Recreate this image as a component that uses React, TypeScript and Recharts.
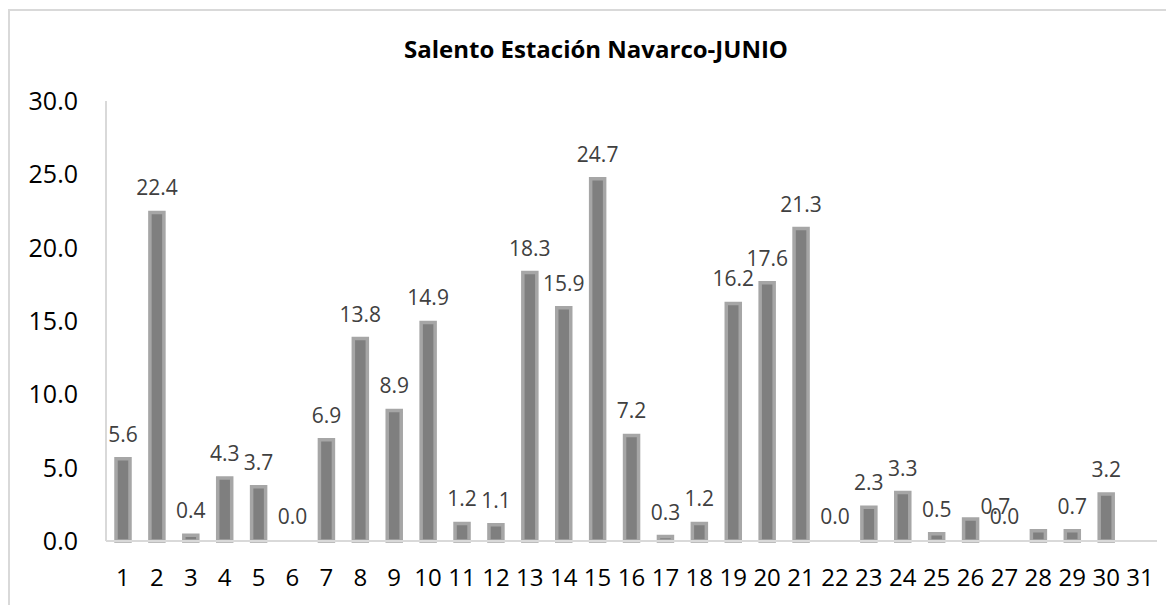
import { BarChart, Bar, XAxis, YAxis, LabelList, Rectangle } from 'recharts';

// días de junio
const days = [
  '1', '2', '3', '4', '5', '6', '7', '8', '9', '10',
  '11', '12', '13', '14', '15', '16', '17', '18', '19', '20',
  '21', '22', '23', '24', '25', '26', '27', '28', '29', '30', '31',
];

// precipitación diaria (mm)
const rain = [
  5.6, 22.4, 0.4, 4.3, 3.7, 0.0, 6.9, 13.8, 8.9, 14.9,
  1.2, 1.1, 18.3, 15.9, 24.7, 7.2, 0.3, 1.2, 16.2, 17.6,
  21.3, 0.0, 2.3, 3.3, 0.5, 1.5, 0.0, 0.7, 0.7, 3.2, null,
];

// etiquetas tal como aparecen en el gráfico (el día 26 no tiene)
const valueLabels = [
  '5.6', '22.4', '0.4', '4.3', '3.7', '0.0', '6.9', '13.8', '8.9', '14.9',
  '1.2', '1.1', '18.3', '15.9', '24.7', '7.2', '0.3', '1.2', '16.2', '17.6',
  '21.3', '0.0', '2.3', '3.3', '0.5', '', '0.0', '0.7', '0.7', '3.2', '',
];

const yTicks = [0, 5, 10, 15, 20, 25, 30];

const data = days.map((day, i) => ({ day, rain: rain[i], label: valueLabels[i] }));

const FONT = '"Open Sans", "Noto Sans", sans-serif';

// no dibujar la barra cuando el valor es 0 (solo queda la etiqueta)
const renderBar = (props: any) => {
  if (!props.payload || !props.payload.rain) return <g />;
  return <Rectangle {...props} />;
};

const renderLabel = (props: any) => {
  const { x, y, width, height, value, index } = props;
  if (!value) return null;
  // la etiqueta del 28 quedó corrida hacia la izquierda en el original
  const dx = days[index] === '28' ? -43 : 0;
  const isZero = data[index] && data[index].rain === 0;
  const top = isZero ? Number(y) + Number(height) : Number(y);
  return (
    <text
      x={Number(x) + Number(width) / 2 + dx}
      y={top - 17}
      textAnchor="middle"
      fill="#404040"
      fontSize={21}
      fontFamily={FONT}
    >
      {value}
    </text>
  );
};

export default function App() {
  return (
    <div style={{ position: 'relative', width: 1166, height: 597, overflow: 'hidden', fontFamily: FONT }}>
      <div
        style={{
          position: 'absolute',
          left: 0,
          top: 1,
          width: 1175,
          height: 700,
          border: '2px solid #d9d9d9',
          boxSizing: 'border-box',
        }}
      />
      <div
        style={{
          position: 'absolute',
          left: 0,
          top: 24,
          width: 1176,
          textAlign: 'center',
          fontWeight: 700,
          fontSize: 24,
          color: '#000',
        }}
      >
        Salento Estación Navarco-JUNIO
      </div>
      <BarChart
        width={1166}
        height={597}
        data={data}
        margin={{ top: 93, right: 17, left: 0, bottom: 24 }}
      >
        <XAxis
          dataKey="day"
          height={40}
          interval={0}
          tickLine={false}
          tickSize={0}
          tickMargin={28}
          axisLine={{ stroke: '#d9d9d9', strokeWidth: 2 }}
          tick={{ fill: '#000', fontSize: 24, fontFamily: FONT }}
        />
        <YAxis
          width={98}
          domain={[0, 30]}
          ticks={yTicks}
          tickFormatter={(v: number) => v.toFixed(1)}
          tickLine={false}
          tickSize={0}
          tickMargin={28}
          axisLine={{ stroke: '#d9d9d9', strokeWidth: 2 }}
          tick={{ fill: '#000', fontSize: 25, fontFamily: FONT }}
        />
        <Bar
          dataKey="rain"
          barSize={14}
          minPointSize={1}
          fill="#7f7f7f"
          stroke="#a6a6a6"
          strokeWidth={3.5}
          shape={renderBar}
          isAnimationActive={false}
        >
          <LabelList dataKey="label" content={renderLabel} />
        </Bar>
      </BarChart>
    </div>
  );
}
